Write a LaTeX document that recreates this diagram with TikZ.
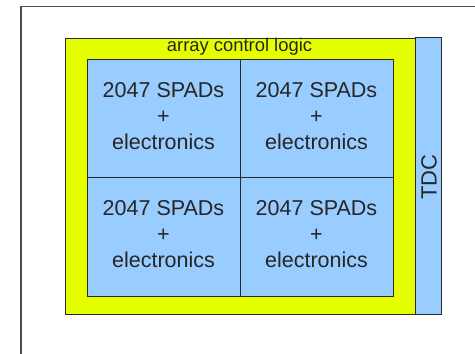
\documentclass[tikz,border=0pt]{standalone}
\usepackage{fontspec}
\setmainfont{Liberation Sans}
\definecolor{chipyellow}{RGB}{230,255,0}
\definecolor{cellblue}{RGB}{153,204,255}
\definecolor{edge}{RGB}{40,40,40}
\begin{document}
\begin{tikzpicture}[x=1pt,y=-1pt,
  box/.style={draw=edge,line width=1pt,inner sep=0pt,outer sep=0pt,anchor=north west},
  celltext/.style={font=\fontsize{21.5}{26}\selectfont,align=center,text=black!85}]
\useasboundingbox (0,0) rectangle (475,354);
\fill[white] (0,0) rectangle (475,354);
\draw[draw=black!70,line width=1.5pt] (21,360) -- (21,6.5) -- (476,6.5);
% array control logic
\node[box,fill=chipyellow,minimum width=350pt,minimum height=276pt] (acl) at (65,38) {};
\node[font=\fontsize{18.4}{20}\selectfont,text=black!85] (acltext) at (239.5,47) {array control logic};
% TDC
\node[box,fill=cellblue,minimum width=26pt,minimum height=277pt] (tdc) at (415,37) {};
\node[font=\fontsize{22}{24}\selectfont,rotate=90,text=black!85] (tdctext) at (429,177) {TDC};
% cells
\node[box,fill=cellblue,minimum width=153pt,minimum height=118pt] (c11) at (87,59) {};
\node[box,fill=cellblue,minimum width=153pt,minimum height=118pt] (c12) at (240,59) {};
\node[box,fill=cellblue,minimum width=153pt,minimum height=119pt] (c21) at (87,177) {};
\node[box,fill=cellblue,minimum width=153pt,minimum height=119pt] (c22) at (240,177) {};
\node[celltext] (t11) at (163.5,116) {2047 SPADs\\+\\electronics};
\node[celltext] (t12) at (316.5,116) {2047 SPADs\\+\\electronics};
\node[celltext] (t21) at (163.5,234) {2047 SPADs\\+\\electronics};
\node[celltext] (t22) at (316.5,234) {2047 SPADs\\+\\electronics};
\end{tikzpicture}
\end{document}
